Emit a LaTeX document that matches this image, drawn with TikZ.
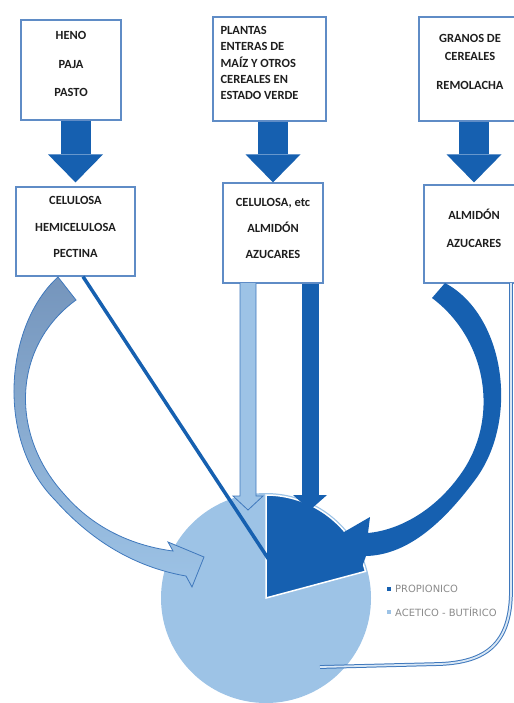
\documentclass[tikz,border=0pt]{standalone}
\usepackage{fontspec}
\setmainfont{Carlito}
\newfontfamily\legfont{DejaVu Sans}
\usetikzlibrary{arrows.meta}
\definecolor{darkb}{HTML}{1660B0}
\definecolor{lightb}{HTML}{9DC3E6}
\definecolor{greyb}{HTML}{7595BC}
\definecolor{edgeb}{HTML}{3F78BC}
\definecolor{boxb}{HTML}{5F8CC6}
\definecolor{txtg}{HTML}{1E1E1E}
\definecolor{legg}{HTML}{8A8A8A}

\begin{document}
\begin{tikzpicture}[x=1bp, y=-1bp,
  box/.style={draw=boxb, line width=1.2bp, fill=white, inner sep=0pt},
  boxtxt/.style={text=txtg, align=center, inner sep=0pt},
  feed/.style={darkb, line width=30bp, -{Triangle[width=55bp, length=28bp, line width=0pt]}},
  legsq/.style={minimum size=3.5bp, inner sep=0pt},
  legtxt/.style={text=legg, font=\legfont\fontsize{10}{12}\selectfont, anchor=west, inner sep=0pt}]
\useasboundingbox (0,0) rectangle (514,703);
\clip (0,0) rectangle (514,703);
	\node [box, minimum width=100bp, minimum height=100bp] (heno) at (71,70) {};
	\node [box, minimum width=113bp, minimum height=104bp] (plantas) at (269.5,69) {};
	\node [box, minimum width=102bp, minimum height=104bp] (granos) at (470,69) {};
	\node [box, minimum width=119bp, minimum height=89bp] (celul) at (75.5,231.5) {};
	\node [box, minimum width=100bp, minimum height=100bp] (cetc) at (273,233) {};
	\node [box, minimum width=100bp, minimum height=98bp] (almidon) at (474,234) {};
	\node [boxtxt, font=\bfseries\fontsize{12.5}{29}\selectfont] (heno-t) at ([yshift=6bp]heno.center) {HENO\\PAJA\\PASTO};
	\node [boxtxt, align=left, anchor=west, font=\bfseries\fontsize{12.5}{16.5}\selectfont] (plantas-t) at ([xshift=8bp, yshift=6bp]plantas.west) {PLANTAS\\ENTERAS DE\\MAÍZ Y OTROS\\CEREALES EN\\ESTADO VERDE};
	\node [boxtxt, font=\bfseries\fontsize{12.5}{18}\selectfont] (granos-t) at ([yshift=7bp]granos.center) {GRANOS DE\\CEREALES\\[12bp]REMOLACHA};
	\node [boxtxt, font=\bfseries\fontsize{12.5}{27}\selectfont] (celul-t) at ([yshift=4.5bp]celul.center) {CELULOSA\\HEMICELULOSA\\PECTINA};
	\node [boxtxt, font=\bfseries\fontsize{12.5}{26.5}\selectfont] (cetc-t) at ([yshift=4.5bp]cetc.center) {CELULOSA, etc\\ALMIDÓN\\AZUCARES};
	\node [boxtxt, font=\bfseries\fontsize{12.5}{28}\selectfont] (almidon-t) at ([yshift=6bp]almidon.center) {ALMIDÓN\\AZUCARES};
\draw [feed, shorten >=4bp] (heno.south -| celul.north) -- (celul.north);
\draw [feed] (plantas.south -| cetc.north) -- (cetc.north);
\draw [feed, shorten >=2bp] (granos.south -| almidon.north) -- (almidon.north);
	\node [circle, fill=lightb, minimum size=210bp, inner sep=0pt] (pie) at (266,598) {};
\fill [darkb, draw=white, line width=1.5bp] (pie.center) -- ++(-90:103) arc [start angle=-90, end angle=-15, radius=103] -- cycle;
\draw [edgeb, line width=0.8bp, top color=greyb, bottom color=lightb] (58,277) .. controls (5,325) and (-5,440) .. (55,500) .. controls (95,545) and (140,568) .. (186,576) -- (192,587) -- (204,557) -- (168,542) -- (173,551) .. controls (135,546) and (95,530) .. (64,494) .. controls (8,432) and (14,345) .. (76,300) -- cycle;
\draw [edgeb, line width=0.8bp, fill=lightb] (240,283) -- (240,496) -- (233,496) -- (248,510) -- (263,496) -- (256,496) -- (256,283);
	\coordinate (dtip) at (310,510);
\draw [darkb, line width=17bp, -{Triangle[width=34bp, length=15bp, line width=0pt]}] (cetc.south -| dtip) -- (dtip);
\fill [darkb] (445,283) .. controls (505,315) and (520,420) .. (475,480) .. controls (440,527) and (405,555) .. (366,556) -- (362,567) -- (332,539) -- (370,517) -- (368,533) .. controls (400,530) and (435,510) .. (460,475) .. controls (500,420) and (488,340) .. (432,298) -- cycle;
	\coordinate (hit) at (277,572);
\draw [darkb, line width=3.5bp] ([xshift=7.5bp]celul.south) -- (hit);
\draw [edgeb, double=lightb!40, double distance=1.8bp, line width=1bp] (511,283) -- (511,590) .. controls (511,645) and (485,662) .. (440,664) -- (320,667);
	\node [legsq, fill=darkb] (prop-sq) at (389,589) {};
	\node [legtxt] (prop) at (395,589) {PROPIONICO};
	\node [legsq, fill=lightb] (acet-sq) at (389,612) {};
	\node [legtxt] (acet) at (395,612) {ACETICO - BUTÍRICO};
\end{tikzpicture}
\end{document}
